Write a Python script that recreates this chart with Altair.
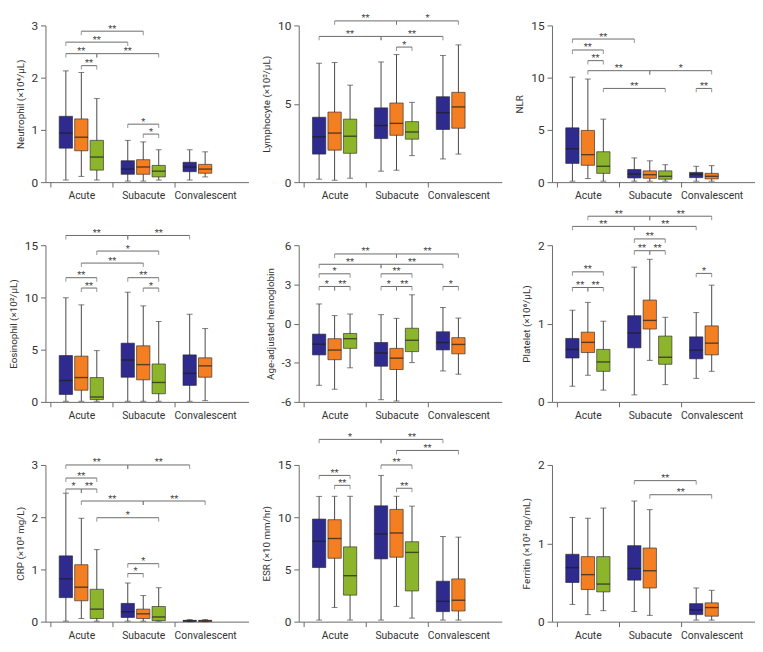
import altair as alt
import pandas as pd

PERIODS = ["Acute", "Subacute", "Convalescent"]
GROUPS = ["Group 1", "Group 2", "Group 3"]
GROUP_COLORS = ["#2E2A8E", "#F37F22", "#8DB52B"]
FONT = "Roboto"

# box statistics: (period index, group index, low whisker, Q1, median, Q3, high whisker)
NEUTROPHIL = [
    (0, 0, 0.04, 0.65, 0.94, 1.26, 2.13), (0, 1, 0.11, 0.60, 0.86, 1.21, 2.10), (0, 2, 0.04, 0.23, 0.48, 0.80, 1.60),
    (1, 0, 0.02, 0.15, 0.25, 0.41, 0.80), (1, 1, 0.02, 0.15, 0.29, 0.43, 0.77), (1, 2, 0.04, 0.10, 0.21, 0.32, 0.62),
    (2, 0, 0.04, 0.20, 0.29, 0.38, 0.62), (2, 1, 0.10, 0.17, 0.25, 0.34, 0.58),
]
LYMPHOCYTE = [
    (0, 0, 0.19, 1.79, 2.89, 4.14, 7.59), (0, 1, 0.12, 2.04, 3.13, 4.47, 7.63), (0, 2, 0.25, 1.84, 2.93, 4.02, 6.19),
    (1, 0, 0.70, 2.78, 3.61, 4.74, 7.67), (1, 1, 0.76, 2.99, 3.75, 5.05, 8.14), (1, 2, 1.69, 2.74, 3.20, 3.86, 5.09),
    (2, 0, 1.48, 3.36, 4.43, 5.45, 8.08), (2, 1, 1.79, 3.44, 4.80, 5.73, 8.76),
]
NLR = [
    (0, 0, 0.09, 1.79, 3.19, 5.20, 10.05), (0, 1, 0.34, 1.61, 2.63, 4.95, 9.87), (0, 2, 0.09, 0.84, 1.52, 2.91, 6.03),
    (1, 0, 0.09, 0.40, 0.77, 1.21, 2.32), (1, 1, 0.09, 0.37, 0.71, 1.08, 2.04), (1, 2, 0.09, 0.28, 0.56, 1.08, 1.67),
    (2, 0, 0.09, 0.43, 0.74, 0.93, 1.52), (2, 1, 0.09, 0.31, 0.56, 0.84, 1.58),
]
EOSINOPHIL = [
    (0, 0, 0.06, 0.71, 2.05, 4.44, 9.97), (0, 1, 0.06, 1.12, 2.33, 4.38, 9.29), (0, 2, 0.06, 0.22, 0.47, 2.33, 4.91),
    (1, 0, 0.06, 2.36, 4.01, 5.62, 10.50), (1, 1, 0.06, 2.11, 3.57, 5.37, 9.19), (1, 2, 0.06, 0.78, 1.86, 3.63, 7.70),
    (2, 0, 0.06, 1.58, 2.73, 4.50, 8.39), (2, 1, 0.12, 2.36, 3.45, 4.22, 7.02),
]
HEMOGLOBIN = [
    (0, 0, -4.73, -2.40, -1.58, -0.81, 1.50), (0, 1, -5.03, -2.77, -2.03, -1.16, 0.61), (0, 2, -3.39, -1.90, -1.16, -0.76, 0.73),
    (1, 0, -5.83, -3.27, -2.25, -1.45, 0.68), (1, 1, -5.93, -3.52, -2.65, -1.90, 0.40), (1, 2, -2.99, -2.15, -1.28, -0.36, 2.20),
    (2, 0, -3.63, -2.02, -1.45, -0.63, 1.23), (2, 1, -3.88, -2.32, -1.60, -1.08, 0.42),
]
PLATELET = [
    (0, 0, 0.20, 0.56, 0.67, 0.81, 1.17), (0, 1, 0.34, 0.63, 0.76, 0.89, 1.27), (0, 2, 0.15, 0.39, 0.51, 0.67, 1.03),
    (1, 0, 0.09, 0.69, 0.88, 1.10, 1.72), (1, 1, 0.53, 0.93, 1.04, 1.30, 1.82), (1, 2, 0.22, 0.48, 0.57, 0.84, 1.08),
    (2, 0, 0.30, 0.55, 0.66, 0.83, 1.14), (2, 1, 0.39, 0.60, 0.75, 0.97, 1.49),
]
CRP = [
    (0, 0, 0.01, 0.46, 0.82, 1.26, 2.46), (0, 1, 0.06, 0.40, 0.66, 1.09, 1.98), (0, 2, 0.01, 0.06, 0.24, 0.62, 1.38),
    (1, 0, 0.01, 0.08, 0.19, 0.35, 0.74), (1, 1, 0.01, 0.06, 0.15, 0.24, 0.50), (1, 2, 0.01, 0.02, 0.09, 0.29, 0.65),
    (2, 0, 0.00, 0.005, 0.015, 0.025, 0.04), (2, 1, 0.00, 0.005, 0.015, 0.025, 0.04),
]
ESR = [
    (0, 0, 0.15, 5.18, 7.69, 9.82, 11.99), (0, 1, 1.36, 6.07, 7.96, 9.76, 12.0), (0, 2, 0.15, 2.54, 4.40, 7.16, 12.0),
    (1, 0, 0.15, 6.01, 8.40, 11.09, 14.0), (1, 1, 1.46, 6.17, 8.49, 10.75, 12.0), (1, 2, 0.34, 2.94, 6.63, 7.65, 11.06),
    (2, 0, 0.15, 0.96, 1.95, 3.87, 8.15), (2, 1, 0.15, 1.02, 2.05, 4.09, 8.09),
]
FERRITIN = [
    (0, 0, 0.22, 0.50, 0.69, 0.86, 1.33), (0, 1, 0.09, 0.41, 0.60, 0.83, 1.32), (0, 2, 0.14, 0.38, 0.48, 0.83, 1.45),
    (1, 0, 0.13, 0.53, 0.68, 0.97, 1.54), (1, 1, 0.08, 0.43, 0.65, 0.94, 1.43),
    (2, 0, 0.02, 0.09, 0.15, 0.23, 0.43), (2, 1, 0.02, 0.07, 0.18, 0.24, 0.40),
]

# significance brackets: (period A, group A, period B, group B, level, label)
NEUTROPHIL_SIG = [
    (0, 1, 1, 1, 2.89, "**"), (0, 0, 1, 0, 2.68, "**"), (0, 0, 0, 2, 2.46, "**"), (0, 2, 1, 2, 2.46, "**"),
    (0, 1, 0, 2, 2.23, "**"), (1, 0, 1, 2, 1.11, "*"), (1, 1, 1, 2, 0.92, "*"),
]
LYMPHOCYTE_SIG = [
    (0, 1, 1, 1, 10.29, "**"), (1, 1, 2, 1, 10.29, "*"), (0, 0, 1, 0, 9.30, "**"), (1, 0, 2, 0, 9.30, "**"),
    (1, 1, 1, 2, 8.62, "*"),
]
NLR_SIG = [
    (0, 0, 1, 0, 13.70, "**"), (0, 0, 0, 2, 12.65, "**"), (0, 1, 0, 2, 11.63, "**"), (0, 1, 1, 1, 10.67, "**"),
    (1, 1, 2, 1, 10.67, "*"), (0, 2, 1, 2, 8.97, "**"), (2, 0, 2, 1, 8.97, "**"),
]
EOSINOPHIL_SIG = [
    (0, 0, 1, 0, 15.93, "**"), (1, 0, 2, 0, 15.93, "**"), (0, 2, 1, 2, 14.44, "*"), (0, 1, 1, 1, 13.29, "**"),
    (0, 0, 0, 2, 11.89, "**"), (1, 0, 1, 2, 11.89, "**"), (0, 1, 0, 2, 10.90, "**"), (1, 1, 1, 2, 10.90, "*"),
]
HEMOGLOBIN_SIG = [
    (0, 1, 1, 1, 5.33, "**"), (1, 1, 2, 1, 5.33, "**"), (0, 0, 1, 0, 4.54, "**"), (1, 0, 2, 0, 4.54, "**"),
    (0, 0, 0, 2, 3.81, "*"), (1, 0, 1, 2, 3.81, "**"), (0, 0, 0, 1, 2.84, "*"), (0, 1, 0, 2, 2.84, "**"),
    (1, 0, 1, 1, 2.84, "*"), (1, 1, 1, 2, 2.84, "**"), (2, 0, 2, 1, 2.84, "*"),
]
PLATELET_SIG = [
    (0, 1, 1, 1, 2.37, "**"), (1, 1, 2, 1, 2.37, "**"), (0, 0, 1, 0, 2.24, "**"), (1, 0, 2, 0, 2.24, "**"),
    (1, 0, 1, 2, 2.08, "**"), (1, 0, 1, 1, 1.93, "**"), (1, 1, 1, 2, 1.93, "**"), (0, 0, 0, 2, 1.66, "**"),
    (2, 0, 2, 1, 1.64, "*"), (0, 0, 0, 1, 1.46, "**"), (0, 1, 0, 2, 1.46, "**"),
]
CRP_SIG = [
    (0, 0, 1, 0, 3.00, "**"), (1, 0, 2, 0, 3.00, "**"), (0, 0, 0, 2, 2.75, "**"), (0, 0, 0, 1, 2.54, "*"),
    (0, 1, 0, 2, 2.54, "**"), (0, 1, 1, 1, 2.31, "**"), (1, 1, 2, 1, 2.31, "**"), (0, 2, 1, 2, 1.99, "*"),
    (1, 0, 1, 2, 1.11, "*"), (1, 0, 1, 1, 0.92, "*"),
]
ESR_SIG = [
    (0, 0, 1, 0, 17.45, "*"), (1, 0, 2, 0, 17.45, "**"), (1, 1, 2, 1, 16.39, "**"), (1, 0, 1, 2, 15.0, "**"),
    (0, 0, 0, 2, 14.0, "**"), (0, 1, 0, 2, 13.05, "**"), (1, 1, 1, 2, 12.77, "**"),
]
FERRITIN_SIG = [
    (1, 0, 2, 0, 1.80, "**"), (1, 1, 2, 1, 1.62, "**"),
]

PANELS = [
    ("Neutrophil (×10⁴/μL)", [0, 3], [0, 1, 2, 3], NEUTROPHIL, NEUTROPHIL_SIG),
    ("Lymphocyte (×10³/μL)", [0, 10], [0, 5, 10], LYMPHOCYTE, LYMPHOCYTE_SIG),
    ("NLR", [0, 15], [0, 5, 10, 15], NLR, NLR_SIG),
    ("Eosinophil (×10²/μL)", [0, 15], [0, 5, 10, 15], EOSINOPHIL, EOSINOPHIL_SIG),
    ("Age-adjusted hemoglobin", [-6, 6], [-6, -3, 0, 3, 6], HEMOGLOBIN, HEMOGLOBIN_SIG),
    ("Platelet (×10⁶/μL)", [0, 2], [0, 1, 2], PLATELET, PLATELET_SIG),
    ("CRP (×10² mg/L)", [0, 3], [0, 1, 2, 3], CRP, CRP_SIG),
    ("ESR (×10 mm/hr)", [0, 15], [0, 5, 10, 15], ESR, ESR_SIG),
    ("Ferritin (×10² ng/mL)", [0, 2], [0, 1, 2], FERRITIN, FERRITIN_SIG),
]

W, H = 206, 159
X_DOMAIN = [0, 3.12]
STEP = 0.25
BOX_PX = 13.5
LINE = "#474747"
BRACKET = "#6a6a6a"


def pos(p, g):
    return p + 0.5 + (g - 1) * STEP


LABEL_EXPR = ("datum.value == 0.5 ? '%s' : datum.value == 1.5 ? '%s' : "
              "datum.value == 2.5 ? '%s' : ''") % tuple(PERIODS)


def panel(title, domain, ticks, boxes, sigs):
    bdf = pd.DataFrame(boxes, columns=["p", "g", "lo", "q1", "med", "q3", "hi"])
    bdf["x"] = [pos(p, g) for p, g in zip(bdf.p, bdf.g)]
    bdf["group"] = [GROUPS[g] for g in bdf.g]
    bdf["period"] = [PERIODS[p] for p in bdf.p]

    sdf = pd.DataFrame(
        [dict(x1=pos(a, b), x2=pos(c, d), y=v, label=lab) for a, b, c, d, v, lab in sigs]
    )
    sdf["xm"] = (sdf.x1 + sdf.x2) / 2
    edf = pd.concat([
        sdf[["x1", "y"]].rename(columns={"x1": "x"}),
        sdf[["x2", "y"]].rename(columns={"x2": "x"}),
    ])

    xscale = alt.Scale(domain=X_DOMAIN, nice=False, zero=False)
    xaxis = alt.Axis(
        values=[0, 0.5, 1, 1.5, 2, 2.5], labelExpr=LABEL_EXPR, title=None, grid=False,
        tickSize=5, labelPadding=4, labelFontSize=10.5, labelOverlap=False, labelFlush=False,
        tickOpacity={"condition": {"test": "datum.value % 1 != 0", "value": 0}, "value": 1},
    )
    yscale = alt.Scale(domain=domain, nice=False, zero=False)
    yaxis = alt.Axis(
        values=ticks, labelExpr="toString(datum.value)", title=title, grid=False, tickSize=5,
        labelPadding=3, labelFontSize=12, titleFontSize=10, titlePadding=6, labelOverlap=False,
    )

    def X(f):
        return alt.X(f"{f}:Q", scale=xscale, axis=xaxis)

    def Y(f):
        return alt.Y(f"{f}:Q", scale=yscale, axis=yaxis)

    base = alt.Chart(bdf)
    whisk = base.mark_rule(color=LINE, strokeWidth=1).encode(x=X("x"), y=Y("lo"), y2="hi")
    cap_lo = base.mark_tick(orient="horizontal", size=6, thickness=1, color=LINE).encode(x=X("x"), y=Y("lo"))
    cap_hi = base.mark_tick(orient="horizontal", size=6, thickness=1, color=LINE).encode(x=X("x"), y=Y("hi"))
    box = base.mark_bar(size=BOX_PX, stroke="#2a2a2a", strokeWidth=0.8, strokeOpacity=0.8).encode(
        x=X("x"), y=Y("q1"), y2="q3",
        color=alt.Color("group:N", scale=alt.Scale(domain=GROUPS, range=GROUP_COLORS), legend=None),
    )
    med = base.mark_tick(orient="horizontal", size=BOX_PX, thickness=1.4, color="#1c1c1c").encode(
        x=X("x"), y=Y("med"))

    sig = alt.Chart(sdf)
    line = sig.mark_rule(color=BRACKET, strokeWidth=1).encode(x=X("x1"), x2="x2", y=Y("y"))
    ends = alt.Chart(edf).mark_tick(orient="vertical", size=4, thickness=1, yOffset=2, color=BRACKET).encode(
        x=X("x"), y=Y("y"))
    stars = sig.mark_text(font=FONT, fontSize=9.5, color="#444444", baseline="alphabetic", dy=0.5).encode(
        x=X("xm"), y=Y("y"), text="label:N")

    return alt.layer(whisk, cap_lo, cap_hi, box, med, line, ends, stars).properties(width=W, height=H)


charts = [panel(*p) for p in PANELS]

chart = alt.concat(
    *charts, columns=3, spacing={"row": 64, "column": 51}, bounds="flush", padding=0,
).configure_view(stroke=None).configure_axis(
    labelFont=FONT, titleFont=FONT, domainColor="#6a6a6a", tickColor="#6a6a6a",
    labelColor="#333333", titleColor="#333333", titleFontWeight="normal",
).properties(background="white")

chart.save("out.html", embed_options={"renderer": "svg", "actions": False})
